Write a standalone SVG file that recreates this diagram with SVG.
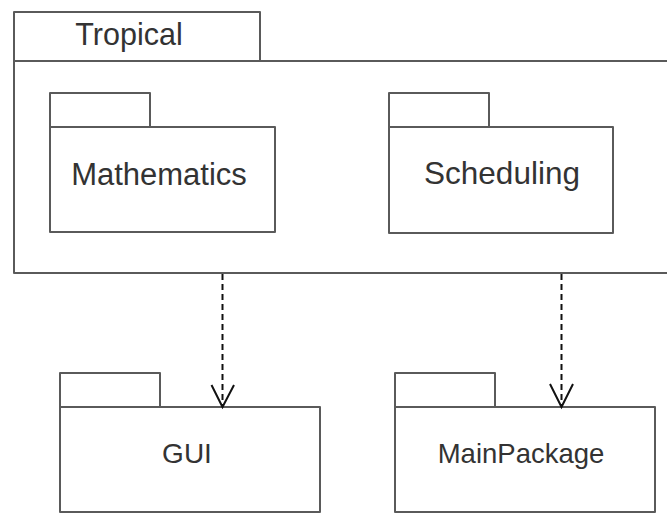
<svg xmlns="http://www.w3.org/2000/svg" width="667" height="514" viewBox="0 0 667 514">
<defs>
<style>
.pkg{fill:#fff;stroke:#5a5a5a;stroke-width:2;stroke-linejoin:round}
.lbl{font-family:"Liberation Sans",Arial,sans-serif;fill:#333;text-anchor:middle}
.dep{fill:none;stroke:#111;stroke-width:2;stroke-dasharray:6 4}
.head{fill:none;stroke:#111;stroke-width:2}
</style>
</defs>
<rect width="667" height="514" fill="#fff"/>
<g id="Tropical">
<rect class="pkg" x="14" y="12" width="246" height="49"/>
<rect class="pkg" x="14" y="61" width="660" height="212"/>
<text class="lbl" x="129" y="45" font-size="30.5">Tropical</text>
</g>
<g id="Mathematics">
<rect class="pkg" x="50" y="93" width="100" height="34"/>
<rect class="pkg" x="50" y="127" width="225" height="105"/>
<text class="lbl" x="159" y="185" font-size="31">Mathematics</text>
</g>
<g id="Scheduling">
<rect class="pkg" x="389" y="93" width="100" height="34"/>
<rect class="pkg" x="389" y="127" width="224" height="106"/>
<text class="lbl" x="502" y="184" font-size="31.5">Scheduling</text>
</g>
<g id="GUI">
<rect class="pkg" x="60" y="373" width="100" height="34"/>
<rect class="pkg" x="60" y="407" width="260" height="105"/>
<text class="lbl" x="187" y="463" font-size="28">GUI</text>
</g>
<g id="MainPackage">
<rect class="pkg" x="395" y="373" width="100" height="34"/>
<rect class="pkg" x="395" y="407" width="260" height="105"/>
<text class="lbl" x="521" y="463" font-size="27.5">MainPackage</text>
</g>
<g id="connectors">
<line class="dep" x1="222.5" y1="274" x2="222.5" y2="405"/>
<polyline class="head" points="211.5,385 222.5,407 234,385"/>
<line class="dep" x1="561.5" y1="274" x2="561.5" y2="405"/>
<polyline class="head" points="550,384 561.5,407 573,384"/>
</g>
</svg>
